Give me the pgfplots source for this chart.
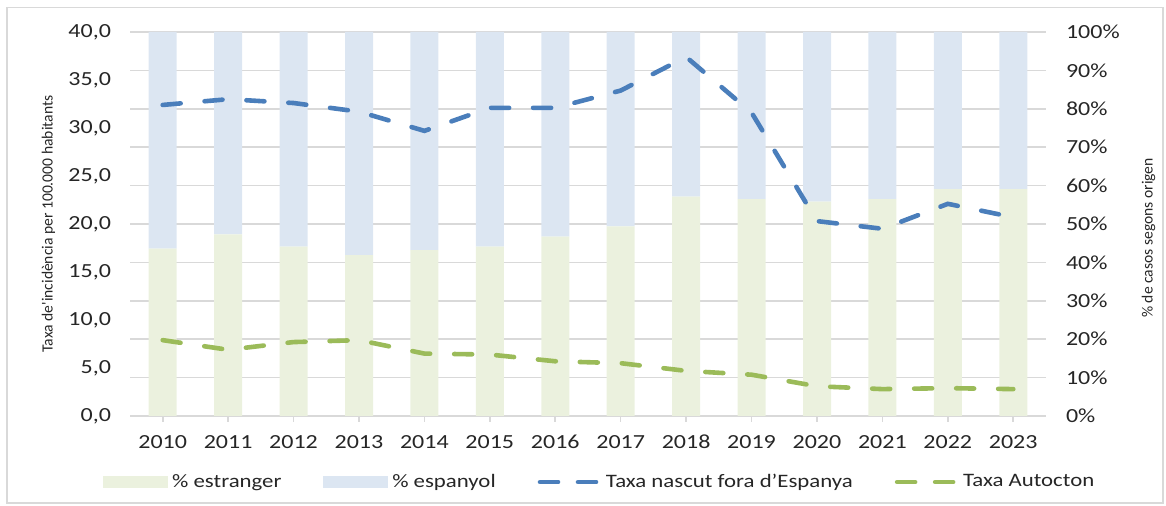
\documentclass[border=0pt]{standalone}
\usepackage{pgfplots}
\pgfplotsset{compat=1.18}
\usepackage{fontspec}
\setmainfont{Carlito}[FakeStretch=1.2]
\newfontfamily\labelfont{Carlito}

\definecolor{barGreen}{HTML}{EBF1DE}
\definecolor{barBlue}{HTML}{DCE6F2}
\definecolor{lineBlue}{HTML}{4A7EBB}
\definecolor{lineGreen}{HTML}{9BBB59}
\definecolor{gridGray}{HTML}{D9D9D9}

\tikzset{rateline/.style={line width=2.3pt, line cap=round, dash pattern=on 9pt off 12pt}}

\begin{document}
\begin{tikzpicture}
\useasboundingbox (0pt,0pt) rectangle (583pt,253pt);
\draw[gridGray, line width=0.8pt] (3.4pt,1.5pt) rectangle (581.5pt,249.3pt);

% bars: % of cases by origin (right axis)
\begin{axis}[
    at={(65pt,45pt)}, anchor=south west,
    scale only axis, width=458pt, height=192pt,
    xmin=2009.5, xmax=2023.5,
    ymin=0, ymax=100,
    ybar stacked, bar width=14pt,
    axis x line*=bottom, axis y line*=right,
    x axis line style={gridGray, line width=0.8pt},
    y axis line style={draw=none},
    xtick={2010,...,2023},
    xtick style={gridGray, line width=0.8pt},
    major tick length=3pt,
    tick align=outside,
    ytick={0,10,...,100},
    ytick style={draw=none},
    ymajorgrids, grid style={gridGray, line width=0.75pt},
    yticklabel={\pgfmathprintnumber{\tick}\%},
    ticklabel style={font=\fontsize{10}{12}\selectfont, text=black!85},
    yticklabel style={xshift=3.5pt},
    xticklabel style={yshift=-3pt},
    ylabel={\% de casos segons origen},
    ylabel style={font=\labelfont\fontsize{7.8}{9}\selectfont, text=black!85,
        at={(axis description cs:1.112,0.4635)}, anchor=center},
    /pgf/number format/1000 sep={},
    /pgf/number format/assume math mode=true,
]
\addplot[fill=barGreen, draw=none] coordinates {
    (2010,43.6) (2011,47.3) (2012,44.1) (2013,41.9) (2014,43.2) (2015,44.1) (2016,46.7)
    (2017,49.4) (2018,57.1) (2019,56.5) (2020,55.8) (2021,56.5) (2022,59.1) (2023,59.1)};
\addplot[fill=barBlue, draw=none] coordinates {
    (2010,56.4) (2011,52.7) (2012,55.9) (2013,58.1) (2014,56.8) (2015,55.9) (2016,53.3)
    (2017,50.6) (2018,42.9) (2019,43.5) (2020,44.2) (2021,43.5) (2022,40.9) (2023,40.9)};
\end{axis}

% lines: incidence rate (left axis)
\begin{axis}[
    at={(65pt,45pt)}, anchor=south west,
    scale only axis, width=458pt, height=192pt,
    xmin=2009.5, xmax=2023.5,
    ymin=0, ymax=40,
    axis x line=none, axis y line*=left,
    y axis line style={draw=none},
    ytick={0,5,...,40},
    ytick style={draw=none},
    yticklabel style={font=\fontsize{10}{12}\selectfont, text=black!85, xshift=-6pt,
        /pgf/number format/.cd, fixed, fixed zerofill, precision=1, use comma, assume math mode=true},
    ylabel={Taxa de'incidència per 100.000 habitants},
    ylabel style={font=\labelfont\fontsize{7.8}{9}\selectfont, text=black!85,
        at={(axis description cs:-0.089,0.5)}, anchor=center},
    legend columns=4,
    legend style={draw=none, fill=none, at={(0.514,-0.172)}, anchor=center,
        font=\fontsize{9.5}{11}\selectfont, text=black!85,
        /tikz/every even column/.append style={column sep=19pt}},
    legend cell align=left,
]
\addlegendimage{legend image code/.code={\fill[barGreen] (0pt,-2.8pt) rectangle (32pt,2.8pt);}}
\addlegendentry{\% estranger}
\addlegendimage{legend image code/.code={\fill[barBlue] (0pt,-2.8pt) rectangle (32pt,2.8pt);}}
\addlegendentry{\% espanyol}
\addplot[lineBlue, rateline,
    legend image code/.code={\draw[lineBlue, line width=2.3pt, line cap=round]
        (1.2pt,0pt) -- (10.8pt,0pt) (20.2pt,0pt) -- (31pt,0pt);}]
    coordinates {
    (2010,32.4) (2011,33.0) (2012,32.6) (2013,31.7) (2014,29.7) (2015,32.1) (2016,32.1)
    (2017,33.9) (2018,37.4) (2019,31.6) (2020,20.3) (2021,19.5) (2022,22.1) (2023,20.7)};
\addlegendentry{Taxa nascut fora d'Espanya}
\addplot[lineGreen, rateline,
    legend image code/.code={\draw[lineGreen, line width=2.3pt, line cap=round]
        (1.2pt,0pt) -- (10.8pt,0pt) (20.2pt,0pt) -- (31pt,0pt);}]
    coordinates {
    (2010,7.9) (2011,6.9) (2012,7.7) (2013,7.9) (2014,6.5) (2015,6.4) (2016,5.7)
    (2017,5.5) (2018,4.7) (2019,4.3) (2020,3.1) (2021,2.8) (2022,2.9) (2023,2.8)};
\addlegendentry{Taxa Autocton}
\end{axis}
\end{tikzpicture}
\end{document}
